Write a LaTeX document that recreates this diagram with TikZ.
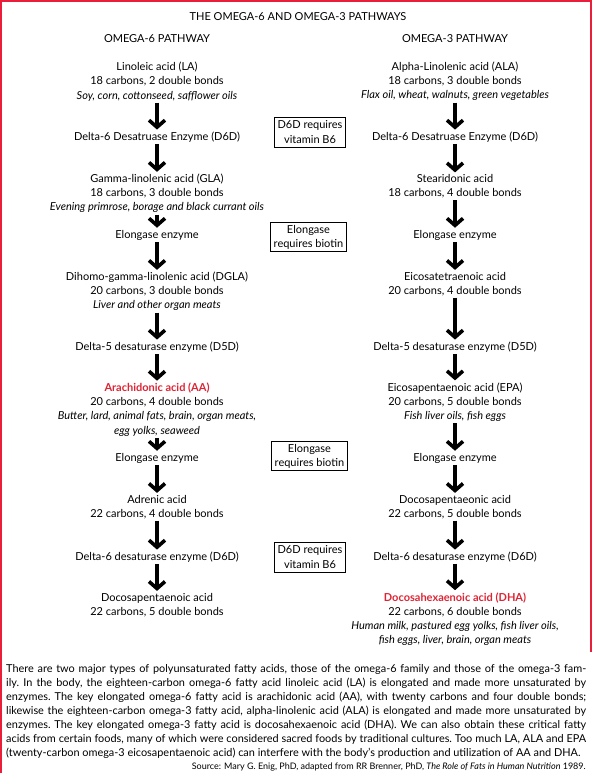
\documentclass[tikz,border=0pt]{standalone}
\usepackage{fontspec}
\setmainfont{Lato}
\usetikzlibrary{arrows.meta}
\definecolor{omegared}{RGB}{221,36,52}
\definecolor{framered}{RGB}{233,30,58}

\begin{document}
\begin{tikzpicture}[x=1pt,y=-1pt,
  every node/.style={font=\fontsize{11}{14.2}\selectfont, align=center, inner sep=0pt},
  flow/.style={-{Straight Barb[length=7pt,width=16pt,line width=3.6pt]}, line width=3.8pt, shorten <=1.5pt, shorten >=2pt},
  note/.style={draw, line width=0.8pt, inner xsep=3pt, inner ysep=2.5pt}]
\useasboundingbox (0,0) rectangle (592,773);
\draw[framered, line width=2.4pt] (1.2,773) -- (1.2,1.2) -- (590.8,1.2) -- (590.8,652);

\node (title) at (298,17) {THE OMEGA-6 AND OMEGA-3 PATHWAYS};
\node (head6) at (157,39) {OMEGA-6 PATHWAY};
\node (head3) at (455,39) {OMEGA-3 PATHWAY};

% omega-6
\node (la) at (157,81.5) {Linoleic acid (LA)\\18 carbons, 2 double bonds\\\itshape Soy, corn, cottonseed, safflower oils};
\node (d6a) at (157,137) {Delta-6 Desatruase Enzyme (D6D)};
\node (gla) at (157,193.5) {Gamma-linolenic acid (GLA)\\18 carbons, 3 double bonds\\\itshape Evening primrose, borage and black currant oils};
\node (elo1) at (157,235) {Elongase enzyme};
\node (dgla) at (157,291.5) {Dihomo-gamma-linolenic acid (DGLA)\\20 carbons, 3 double bonds\\\itshape Liver and other organ meats};
\node (d5a) at (157,347) {Delta-5 desaturase enzyme (D5D)};
\node (aa) at (157,409.5) {{\bfseries\color{omegared}Arachidonic acid (AA)}\\20 carbons, 4 double bonds\\\itshape Butter, lard, animal fats, brain, organ meats,\\\itshape egg yolks, seaweed};
\node (elo2) at (157,458) {Elongase enzyme};
\node (adr) at (157,507) {Adrenic acid\\22 carbons, 4 double bonds};
\node (d6b) at (157,557) {Delta-6 desaturase enzyme (D6D)};
\node (dpa) at (157,605) {Docosapentaenoic acid\\22 carbons, 5 double bonds};

% omega-3
\node (ala) at (455,81.5) {Alpha-Linolenic acid (ALA)\\18 carbons, 3 double bonds\\\itshape Flax oil, wheat, walnuts, green vegetables};
\node (d6c) at (455,137) {Delta-6 Desatruase Enzyme (D6D)};
\node (sda) at (455,186.5) {Stearidonic acid\\18 carbons, 4 double bonds};
\node (elo3) at (455,235) {Elongase enzyme};
\node (eta) at (455,284) {Eicosatetraenoic acid\\20 carbons, 4 double bonds};
\node (d5b) at (455,347) {Delta-5 desaturase enzyme (D5D)};
\node (epa) at (455,402) {Eicosapentaenoic acid (EPA)\\20 carbons, 5 double bonds\\\itshape Fish liver oils, fish eggs};
\node (elo4) at (455,458) {Elongase enzyme};
\node (dpa3) at (455,507) {Docosapentaeonic acid\\22 carbons, 5 double bonds};
\node (d6d) at (455,557) {Delta-6 desaturase enzyme (D6D)};
\node (dha) at (455,619) {{\bfseries\color{omegared}Docosahexaenoic acid (DHA)}\\22 carbons, 6 double bonds\\\itshape Human milk, pastured egg yolks, fish liver oils,\\\itshape fish eggs, liver, brain, organ meats};

% cofactors
\node[note, minimum height=30pt] (b6a) at (310,132) {D6D requires\\vitamin B6};
\node[note] (bio1) at (308.5,237) {Elongase\\requires biotin};
\node[note] (bio2) at (309.5,456) {Elongase\\requires biotin};
\node[note, minimum height=30pt] (b6b) at (310,557) {D6D requires\\vitamin B6};

\foreach \a/\b in {la/d6a,d6a/gla,gla/elo1,elo1/dgla,dgla/d5a,d5a/aa,aa/elo2,elo2/adr,adr/d6b,d6b/dpa,
  ala/d6c,d6c/sda,sda/elo3,elo3/eta,eta/d5b,d5b/epa,epa/elo4,elo4/dpa3,dpa3/d6d,d6d/dha}
  \draw[flow] (\a.south) -- (\b.north);

\node[anchor=north west, text width=580pt, align=justify, font=\fontsize{10.9}{14.1}\selectfont] (para) at (6,664) {\frenchspacing\parfillskip=0pt
There are two major types of polyunsaturated fatty acids, those of the omega-6 family and those of the omega-3 fam-\linebreak
ily. In the body, the eighteen-carbon omega-6 fatty acid linoleic acid (LA) is elongated and made more unsaturated by\linebreak
enzymes. The key elongated omega-6 fatty acid is arachidonic acid (AA), with twenty carbons and four double bonds;\linebreak
likewise the eighteen-carbon omega-3 fatty acid, alpha-linolenic acid (ALA) is elongated and made more unsaturated by\linebreak
enzymes. The key elongated omega-3 fatty acid is docosahexaenoic acid (DHA). We can also obtain these critical fatty\linebreak
acids from certain foods, many of which were considered sacred foods by traditional cultures. Too much LA, ALA and EPA\linebreak
(twenty-carbon omega-3 eicosapentaenoic acid) can interfere with the body's production and utilization of AA and DHA.};
\node[anchor=east, font=\fontsize{9}{10}\selectfont] (src) at (586,766.5) {Source: Mary G. Enig, PhD, adapted from RR Brenner, PhD, \textit{The Role of Fats in Human Nutrition} 1989.};
\end{tikzpicture}
\end{document}
